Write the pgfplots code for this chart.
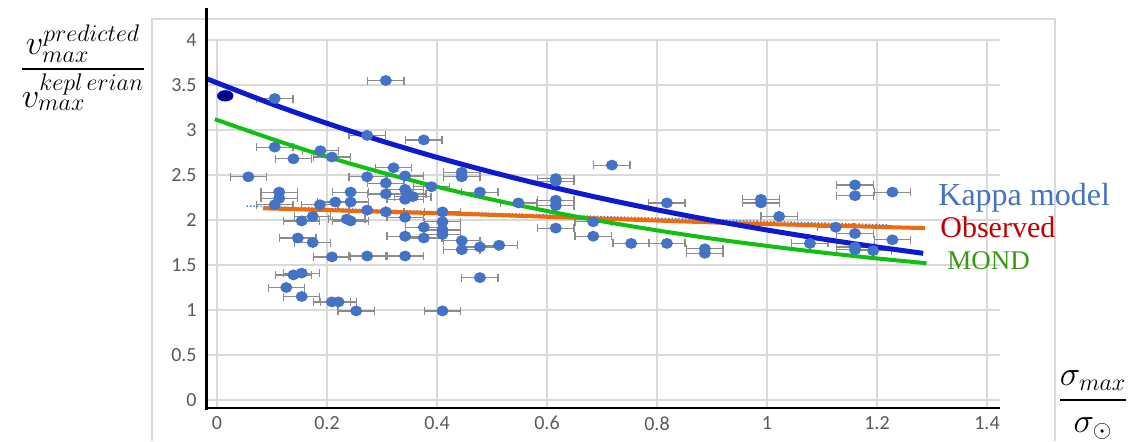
\documentclass[border=0pt]{standalone}
\usepackage{pgfplots}
\pgfplotsset{compat=1.18}
\usepackage{amsmath}
\usepackage{fontspec}
\setmainfont{Liberation Serif}
\newfontfamily\carlito{Carlito}
\definecolor{ptblue}{HTML}{4472C4}
\definecolor{errgray}{HTML}{8C8C8C}
\definecolor{kblue}{HTML}{0D1ACF}
\definecolor{mgreen}{HTML}{10C010}
\definecolor{obsorange}{HTML}{EE6A0A}
\definecolor{darkell}{HTML}{0000A0}
\definecolor{gridgray}{HTML}{D9D9D9}
\definecolor{ticktext}{HTML}{595959}
\definecolor{obsred}{HTML}{C00000}
\definecolor{mondgreen}{HTML}{389A12}
\begin{document}
\begin{tikzpicture}
\path[use as bounding box] (0,0) rectangle (567pt,220.5pt);
\draw[gridgray, line width=0.6pt] (76pt,0) -- (76pt,211pt) -- (527.5pt,211pt) -- (527.5pt,0);
\begin{axis}[
  at={(104pt,16.5pt)}, anchor=south west,
  scale only axis, width=396pt, height=184pt,
  xmin=-0.01636, xmax=1.42364, ymin=-0.0889, ymax=4,
  axis line style={draw=none},
  xtick={0,0.2,0.4,0.6,0.8,1,1.2,1.4},
  ytick={0,0.5,1,1.5,2,2.5,3,3.5,4},
  major tick length=0pt,
  grid=major,
  grid style={gridgray, line width=0.6pt},
  /pgf/number format/assume math mode=true,
  tick label style={font=\fontsize{10}{12}\selectfont\carlito, text=ticktext},
  yticklabel style={inner sep=0pt, xshift=-5.5pt},
  xticklabel style={inner sep=0pt, yshift=-4pt},
  clip=false,
]
\addplot[only marks, mark=*, mark size=2.5pt,
  mark options={fill=ptblue, draw=ptblue, xscale=1.12},
  error bars/.cd, x dir=both, x fixed=0.033,
  error bar style={color=errgray, line width=0.6pt},
  error mark options={rotate=90, errgray, line width=0.6pt, mark size=2pt}]
coordinates {
(0.307,3.55) (0.105,3.35) (0.273,2.94) (0.376,2.89) (0.105,2.81) (0.139,2.68)
(0.188,2.77) (0.209,2.70) (0.321,2.58) (0.057,2.48) (0.273,2.48) (0.342,2.49)
(0.307,2.41) (0.445,2.53) (0.445,2.48) (0.390,2.37) (0.113,2.31) (0.243,2.31)
(0.307,2.29) (0.342,2.34) (0.347,2.29) (0.113,2.24) (0.105,2.17) (0.187,2.17)
(0.215,2.20) (0.243,2.20) (0.342,2.23) (0.356,2.26) (0.273,2.11) (0.307,2.09)
(0.342,2.03) (0.410,2.09) (0.410,1.98) (0.154,1.99) (0.174,2.04) (0.236,2.01)
(0.243,1.99) (0.376,1.92) (0.410,1.89) (0.410,1.84) (0.342,1.82) (0.376,1.80)
(0.147,1.80) (0.174,1.75) (0.445,1.77) (0.445,1.67) (0.209,1.59) (0.273,1.60)
(0.342,1.60) (0.139,1.39) (0.154,1.41) (0.126,1.25) (0.154,1.15) (0.209,1.09)
(0.221,1.09) (0.253,0.99) (0.410,0.99)
(0.548,2.19) (0.616,2.22) (0.616,2.16) (0.818,2.19) (0.478,1.70) (0.513,1.72)
(0.616,1.91) (0.684,1.98) (0.684,1.82) (0.753,1.74) (0.818,1.74) (0.887,1.68)
(0.887,1.63) (0.478,1.36) (0.718,2.61) (0.616,2.46) (0.616,2.43) (0.478,2.31)
(0.989,2.23) (0.989,2.19) (1.022,2.04) (1.160,2.39) (1.160,2.27) (1.228,2.31)
(1.125,1.92) (1.160,1.85) (1.228,1.78) (1.078,1.74) (1.160,1.67) (1.193,1.66)
(1.160,1.70)
};
\addplot[only marks, mark=*, mark size=2.6pt, mark options={fill=darkell, draw=darkell, xscale=1.5}] coordinates {(0.015,3.38)};
\addplot[only marks, mark=*, mark size=0.6pt, mark options={fill=black, draw=black}] coordinates {(0.015,3.38)};
% dotted trendline
\addplot[ptblue, densely dotted, line width=0.7pt] coordinates {(0.054,2.155) (1.22,1.945)};
% observed
\addplot[obsorange, line width=2pt] coordinates {(0.084,2.13) (0.46,2.065) (0.94,1.965) (1.287,1.91)};
% MOND
\addplot[mgreen, line width=2pt, smooth] coordinates {
(-0.004,3.12) (0.1,2.900) (0.2,2.703) (0.3,2.527) (0.4,2.369) (0.5,2.227) (0.6,2.100)
(0.7,1.986) (0.8,1.885) (0.9,1.793) (1.0,1.712) (1.1,1.639) (1.2,1.573) (1.29,1.52)};
% Kappa
\addplot[kblue, line width=2.5pt, smooth] coordinates {
(-0.019,3.57) (0.1,3.289) (0.2,3.074) (0.3,2.877) (0.4,2.696) (0.5,2.531) (0.6,2.379)
(0.7,2.240) (0.8,2.113) (0.9,1.996) (1.0,1.889) (1.1,1.790) (1.2,1.700) (1.284,1.63)};
\end{axis}
\draw[black, line width=1.4pt] (103.3pt,15.5pt) -- (103.3pt,216.5pt);
\draw[black, line width=1.1pt] (102.5pt,16.5pt) -- (500pt,16.5pt);
\node at (41.5pt,186.5pt) {\fontsize{18.5}{22}\selectfont $\dfrac{v_{max}^{predicted}}{v_{max}^{kepl\,erian}}$};
\node at (546.5pt,18pt) {\fontsize{17}{20}\selectfont $\dfrac{\sigma_{max}}{\sigma_{\odot}}$};
\node[anchor=base west, inner sep=0pt, text=ptblue] at (469pt,118pt) {\fontsize{16}{19}\selectfont Kappa model};
\node[anchor=base west, inner sep=0pt, text=obsred] at (470pt,102pt) {\fontsize{15}{18}\selectfont Observed};
\node[anchor=base west, inner sep=0pt, text=mondgreen] at (473.5pt,86pt) {\fontsize{13.5}{16}\selectfont MOND};
\end{tikzpicture}
\end{document}
